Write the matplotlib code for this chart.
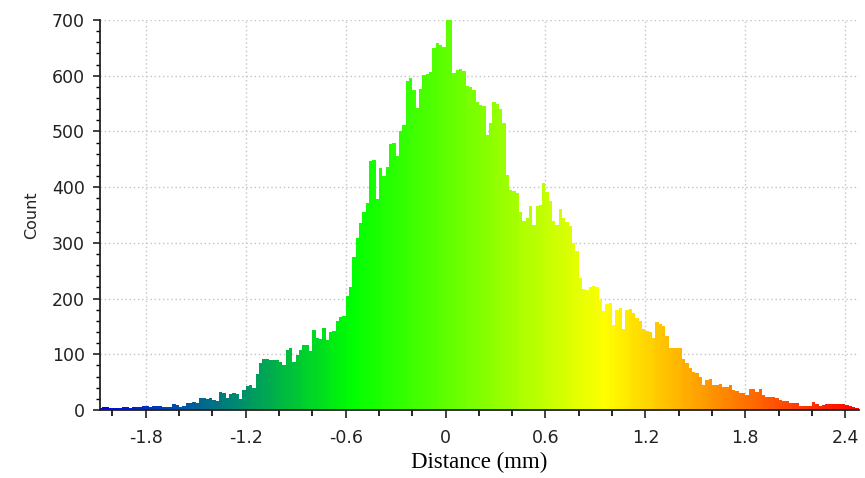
import numpy as np
import matplotlib
matplotlib.use("Agg")
import matplotlib.pyplot as plt
from matplotlib.colors import LinearSegmentedColormap
from matplotlib.ticker import MultipleLocator

# histogram of distances, 0.02 mm classes from -2.08 to 2.48
lo, hi = -2.08, 2.48
counts = [
    4, 6, 5, 3, 4, 4, 3, 5, 5, 4,
    6, 6, 5, 7, 8, 6, 7, 8, 8, 6,
    5, 6, 10, 9, 6, 8, 12, 13, 14, 13,
    22, 21, 20, 22, 18, 17, 33, 31, 21, 29,
    30, 28, 20, 35, 43, 44, 39, 64, 84, 92,
    91, 90, 90, 89, 86, 80, 108, 111, 86, 98,
    108, 116, 117, 106, 144, 130, 127, 148, 125, 140,
    141, 160, 166, 168, 205, 221, 275, 308, 336, 355,
    372, 446, 448, 378, 434, 420, 436, 478, 480, 455,
    500, 512, 590, 596, 574, 542, 577, 601, 603, 607,
    649, 658, 655, 652, 701, 700, 604, 610, 612, 608,
    582, 580, 574, 552, 548, 546, 494, 515, 552, 550,
    540, 515, 422, 395, 393, 390, 355, 340, 344, 366,
    332, 366, 368, 408, 392, 375, 340, 332, 360, 345,
    338, 330, 300, 286, 236, 218, 216, 221, 222, 220,
    198, 177, 190, 192, 152, 180, 183, 146, 180, 182,
    174, 165, 160, 145, 141, 140, 130, 158, 155, 150,
    132, 112, 112, 111, 112, 92, 85, 75, 68, 66,
    59, 44, 54, 55, 44, 45, 47, 41, 42, 45,
    35, 34, 31, 30, 26, 37, 38, 32, 37, 27,
    24, 23, 23, 21, 18, 17, 17, 13, 13, 12,
    8, 8, 7, 7, 14, 10, 8, 9, 11, 11,
    11, 11, 11, 11, 9, 8, 5, 3,
]
x_ticks = [-1.8, -1.2, -0.6, 0, 0.6, 1.2, 1.8, 2.4]
x_labels = ["-1.8", "-1.2", "-0.6", "0", "0.6", "1.2", "1.8", "2.4"]
y_ticks = [0, 100, 200, 300, 400, 500, 600, 700]

counts = np.array(counts)
edges = np.linspace(lo, hi, len(counts) + 1)
centers = (edges[:-1] + edges[1:]) / 2
width = edges[1] - edges[0]

# blue > green > yellow > red scale
cmap = LinearSegmentedColormap.from_list("bgyr", ["#0000f0", "#00ff00", "#ffff00", "#ff0000"])
colors = cmap((centers - lo) / (hi - lo))

fig = plt.figure(figsize=(8.65, 4.78), dpi=100)
ax = fig.add_axes([0.1156, 0.1423, 0.877, 0.8159])

ax.bar(centers, counts, width=width, color=colors, linewidth=0, zorder=2)

ax.set_xlim(-2.075, 2.48)
ax.set_ylim(0, 700)
ax.set_xticks(x_ticks)
ax.set_xticklabels(x_labels)
ax.set_yticks(y_ticks)
ax.xaxis.set_minor_locator(MultipleLocator(0.2))
ax.yaxis.set_minor_locator(MultipleLocator(20))

ax.grid(True, which="major", linestyle=(0, (1, 2)), color="#c4c4c4", linewidth=1, zorder=0)
ax.set_axisbelow(True)

for side in ["top", "right"]:
    ax.spines[side].set_visible(False)
for side in ["left", "bottom"]:
    ax.spines[side].set_linewidth(1.3)
    ax.spines[side].set_color("#222222")
    ax.spines[side].set_zorder(3)

ax.tick_params(axis="x", which="major", direction="out", length=6, width=1.2, pad=8, labelsize=12.5, colors="#222222")
ax.tick_params(axis="x", which="minor", direction="out", length=4, width=1.2)
ax.tick_params(axis="y", which="major", direction="out", length=5, width=1.2, pad=6, labelsize=12.5, colors="#222222")
ax.tick_params(axis="y", which="minor", direction="out", length=3, width=1)

ax.set_ylabel("Count", fontsize=11.5, color="#222222", labelpad=9)
ax.set_xlabel("Distance (mm)", fontsize=16.5, family="Liberation Serif", labelpad=3)

plt.savefig("out.png", dpi=100)
